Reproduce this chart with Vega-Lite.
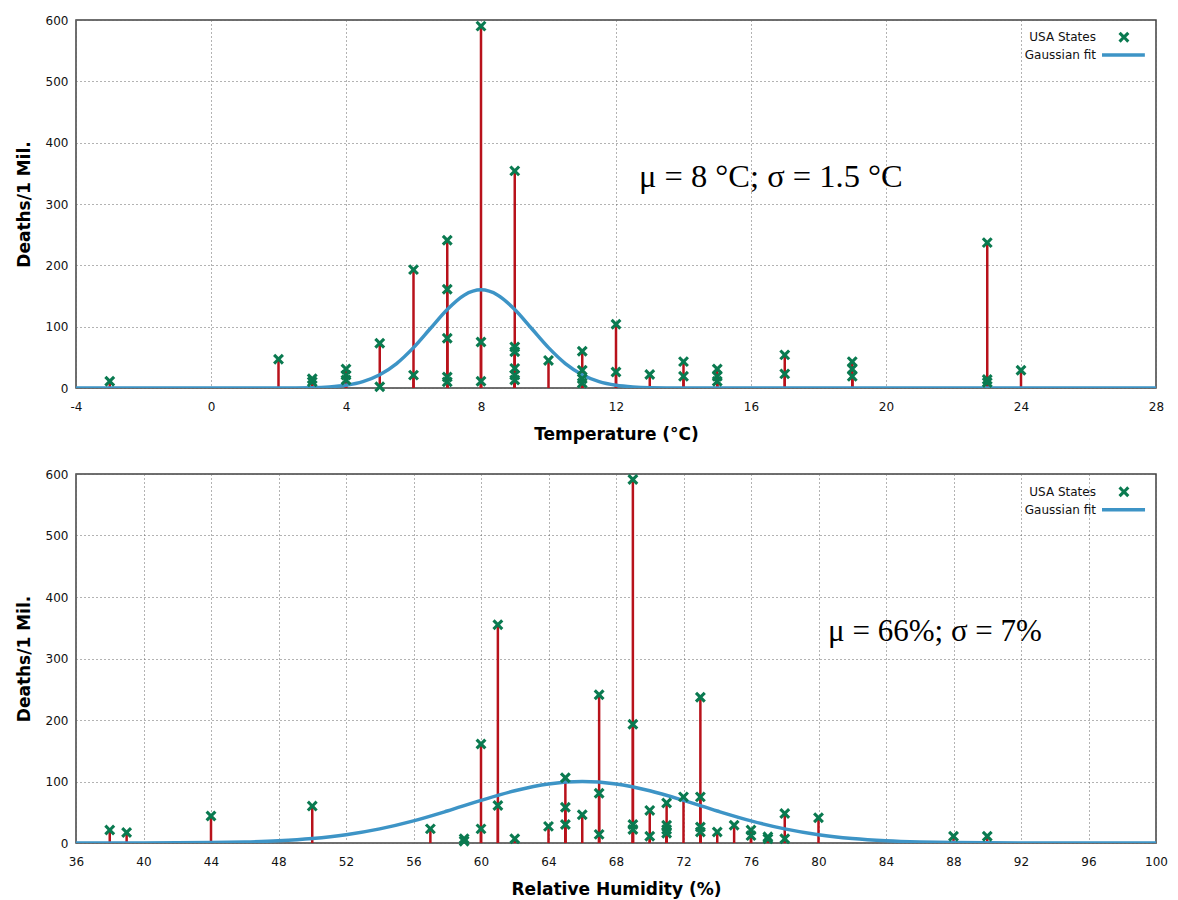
{
  "$schema": "https://vega.github.io/schema/vega-lite/v6.json",
  "background": "white",
  "padding": {"top": 13, "left": 14, "right": 10, "bottom": 5},
  "config": {
    "view": {"stroke": "#404040", "strokeWidth": 1.5},
    "concat": {"spacing": 24},
    "axis": {
      "labelFont": "DejaVu Sans",
      "labelFontSize": 12,
      "labelColor": "#111111",
      "titleFont": "DejaVu Sans",
      "titleFontSize": 17,
      "titleFontWeight": "bold",
      "titleColor": "#000000",
      "grid": true,
      "gridDash": [1, 3],
      "gridColor": "#666666",
      "gridWidth": 1,
      "ticks": false,
      "domain": false,
      "labelFlush": false,
      "labelExpr": "'' + datum.value"
    },
    "axisX": {"labelPadding": 13, "titlePadding": 14},
    "axisY": {"labelPadding": 8, "titlePadding": 12}
  },
  "datasets": {
    "temp": [
      {"temperature": -3, "deaths": 11},
      {"temperature": 2, "deaths": 47},
      {"temperature": 3, "deaths": 15},
      {"temperature": 3, "deaths": 10},
      {"temperature": 4, "deaths": 31},
      {"temperature": 4, "deaths": 21},
      {"temperature": 4, "deaths": 13},
      {"temperature": 5, "deaths": 73},
      {"temperature": 5, "deaths": 2},
      {"temperature": 6, "deaths": 193},
      {"temperature": 6, "deaths": 21},
      {"temperature": 7, "deaths": 241},
      {"temperature": 7, "deaths": 161},
      {"temperature": 7, "deaths": 81},
      {"temperature": 7, "deaths": 18},
      {"temperature": 7, "deaths": 10},
      {"temperature": 8, "deaths": 590},
      {"temperature": 8, "deaths": 75},
      {"temperature": 8, "deaths": 11},
      {"temperature": 9, "deaths": 354},
      {"temperature": 9, "deaths": 67},
      {"temperature": 9, "deaths": 59},
      {"temperature": 9, "deaths": 32},
      {"temperature": 9, "deaths": 21},
      {"temperature": 9, "deaths": 13},
      {"temperature": 10, "deaths": 45},
      {"temperature": 11, "deaths": 60},
      {"temperature": 11, "deaths": 29},
      {"temperature": 11, "deaths": 15},
      {"temperature": 11, "deaths": 8},
      {"temperature": 12, "deaths": 104},
      {"temperature": 12, "deaths": 26},
      {"temperature": 13, "deaths": 22},
      {"temperature": 14, "deaths": 43},
      {"temperature": 14, "deaths": 19},
      {"temperature": 15, "deaths": 31},
      {"temperature": 15, "deaths": 19},
      {"temperature": 15, "deaths": 11},
      {"temperature": 17, "deaths": 54},
      {"temperature": 17, "deaths": 23},
      {"temperature": 19, "deaths": 43},
      {"temperature": 19, "deaths": 31},
      {"temperature": 19, "deaths": 19},
      {"temperature": 23, "deaths": 237},
      {"temperature": 23, "deaths": 14},
      {"temperature": 23, "deaths": 9},
      {"temperature": 24, "deaths": 29}
    ],
    "tempFit": [
      {"temperature": -4, "deaths": 0},
      {"temperature": 0, "deaths": 0},
      {"temperature": 2, "deaths": 0.05},
      {"temperature": 3, "deaths": 0.6},
      {"temperature": 3.5, "deaths": 1.8},
      {"temperature": 4, "deaths": 4.6},
      {"temperature": 4.5, "deaths": 10.5},
      {"temperature": 5, "deaths": 21.7},
      {"temperature": 5.5, "deaths": 39.9},
      {"temperature": 6, "deaths": 65.8},
      {"temperature": 6.5, "deaths": 97.0},
      {"temperature": 7, "deaths": 128.1},
      {"temperature": 7.5, "deaths": 151.4},
      {"temperature": 8, "deaths": 160},
      {"temperature": 8.5, "deaths": 151.4},
      {"temperature": 9, "deaths": 128.1},
      {"temperature": 9.5, "deaths": 97.0},
      {"temperature": 10, "deaths": 65.8},
      {"temperature": 10.5, "deaths": 39.9},
      {"temperature": 11, "deaths": 21.7},
      {"temperature": 11.5, "deaths": 10.5},
      {"temperature": 12, "deaths": 4.6},
      {"temperature": 12.5, "deaths": 1.8},
      {"temperature": 13, "deaths": 0.6},
      {"temperature": 14, "deaths": 0.05},
      {"temperature": 16, "deaths": 0},
      {"temperature": 28, "deaths": 0}
    ],
    "hum": [
      {"humidity": 38, "deaths": 21},
      {"humidity": 39, "deaths": 17},
      {"humidity": 44, "deaths": 44},
      {"humidity": 50, "deaths": 60},
      {"humidity": 57, "deaths": 23},
      {"humidity": 59, "deaths": 7},
      {"humidity": 59, "deaths": 3},
      {"humidity": 60, "deaths": 161},
      {"humidity": 60, "deaths": 23},
      {"humidity": 61, "deaths": 355},
      {"humidity": 61, "deaths": 61},
      {"humidity": 62, "deaths": 7},
      {"humidity": 64, "deaths": 27},
      {"humidity": 65, "deaths": 106},
      {"humidity": 65, "deaths": 58},
      {"humidity": 65, "deaths": 30},
      {"humidity": 66, "deaths": 46},
      {"humidity": 67, "deaths": 241},
      {"humidity": 67, "deaths": 81},
      {"humidity": 67, "deaths": 14},
      {"humidity": 69, "deaths": 591},
      {"humidity": 69, "deaths": 193},
      {"humidity": 69, "deaths": 30},
      {"humidity": 69, "deaths": 22},
      {"humidity": 70, "deaths": 53},
      {"humidity": 70, "deaths": 11},
      {"humidity": 71, "deaths": 65},
      {"humidity": 71, "deaths": 29},
      {"humidity": 71, "deaths": 22},
      {"humidity": 71, "deaths": 16},
      {"humidity": 72, "deaths": 75},
      {"humidity": 73, "deaths": 237},
      {"humidity": 73, "deaths": 75},
      {"humidity": 73, "deaths": 26},
      {"humidity": 73, "deaths": 18},
      {"humidity": 74, "deaths": 18},
      {"humidity": 75, "deaths": 29},
      {"humidity": 76, "deaths": 21},
      {"humidity": 76, "deaths": 12},
      {"humidity": 77, "deaths": 10},
      {"humidity": 77, "deaths": 7},
      {"humidity": 78, "deaths": 48},
      {"humidity": 78, "deaths": 7},
      {"humidity": 80, "deaths": 41},
      {"humidity": 88, "deaths": 11},
      {"humidity": 90, "deaths": 11}
    ],
    "humFit": [
      {"humidity": 36, "deaths": 0},
      {"humidity": 40, "deaths": 0.1},
      {"humidity": 44, "deaths": 0.72},
      {"humidity": 46, "deaths": 1.69},
      {"humidity": 48, "deaths": 3.67},
      {"humidity": 50, "deaths": 7.34},
      {"humidity": 52, "deaths": 13.5},
      {"humidity": 54, "deaths": 23.0},
      {"humidity": 56, "deaths": 36.0},
      {"humidity": 58, "deaths": 52.0},
      {"humidity": 60, "deaths": 69.3},
      {"humidity": 62, "deaths": 84.9},
      {"humidity": 64, "deaths": 96.0},
      {"humidity": 66, "deaths": 100},
      {"humidity": 68, "deaths": 96.0},
      {"humidity": 70, "deaths": 84.9},
      {"humidity": 72, "deaths": 69.3},
      {"humidity": 74, "deaths": 52.0},
      {"humidity": 76, "deaths": 36.0},
      {"humidity": 78, "deaths": 23.0},
      {"humidity": 80, "deaths": 13.5},
      {"humidity": 82, "deaths": 7.34},
      {"humidity": 84, "deaths": 3.67},
      {"humidity": 86, "deaths": 1.69},
      {"humidity": 88, "deaths": 0.72},
      {"humidity": 90, "deaths": 0.28},
      {"humidity": 92, "deaths": 0.1},
      {"humidity": 96, "deaths": 0},
      {"humidity": 100, "deaths": 0}
    ],
    "one": [{}]
  },
  "vconcat": [
    {
      "width": 1080,
      "height": 368,
      "layer": [
        {
          "data": {"name": "temp"},
          "mark": {"type": "rule", "color": "#b8121b", "strokeWidth": 2.5},
          "encoding": {
            "x": {"field": "temperature", "type": "quantitative",
              "scale": {"domain": [-4, 28], "nice": false, "zero": false},
              "axis": {"title": "Temperature (°C)", "values": [-4, 0, 4, 8, 12, 16, 20, 24, 28]}},
            "y": {"field": "deaths", "type": "quantitative",
              "scale": {"domain": [0, 600], "nice": false},
              "axis": {"title": "Deaths/1 Mil.", "values": [0, 100, 200, 300, 400, 500, 600]}},
            "y2": {"datum": 0}
          }
        },
        {
          "data": {"name": "tempFit"},
          "mark": {"type": "line", "color": "#3d94c6", "strokeWidth": 3.5, "interpolate": "monotone", "clip": true},
          "encoding": {
            "x": {"field": "temperature", "type": "quantitative"},
            "y": {"field": "deaths", "type": "quantitative"}
          }
        },
        {
          "data": {"name": "temp"},
          "mark": {"type": "point", "filled": true, "opacity": 1, "size": 120, "color": "#0a7a50",
            "shape": "M-1,-0.6L-0.6,-1L0,-0.4L0.6,-1L1,-0.6L0.4,0L1,0.6L0.6,1L0,0.4L-0.6,1L-1,0.6L-0.4,0Z"},
          "encoding": {
            "x": {"field": "temperature", "type": "quantitative"},
            "y": {"field": "deaths", "type": "quantitative"}
          }
        },
        {
          "data": {"name": "one"},
          "mark": {"type": "text", "font": "Liberation Serif", "fontSize": 32.5, "align": "left", "baseline": "middle", "color": "#000000"},
          "encoding": {
            "x": {"datum": 12.68, "type": "quantitative"},
            "y": {"datum": 344, "type": "quantitative"},
            "text": {"value": "μ = 8 °C; σ = 1.5 °C"}
          }
        },
        {
          "data": {"name": "one"},
          "mark": {"type": "text", "font": "DejaVu Sans", "fontSize": 12, "align": "right", "baseline": "middle", "color": "#111111"},
          "encoding": {
            "x": {"datum": 26.22, "type": "quantitative"},
            "y": {"datum": 572, "type": "quantitative"},
            "text": {"value": "USA States"}
          }
        },
        {
          "data": {"name": "one"},
          "mark": {"type": "text", "font": "DejaVu Sans", "fontSize": 12, "align": "right", "baseline": "middle", "color": "#111111"},
          "encoding": {
            "x": {"datum": 26.22, "type": "quantitative"},
            "y": {"datum": 543, "type": "quantitative"},
            "text": {"value": "Gaussian fit"}
          }
        },
        {
          "data": {"name": "one"},
          "mark": {"type": "point", "filled": true, "opacity": 1, "size": 120, "color": "#0a7a50",
            "shape": "M-1,-0.6L-0.6,-1L0,-0.4L0.6,-1L1,-0.6L0.4,0L1,0.6L0.6,1L0,0.4L-0.6,1L-1,0.6L-0.4,0Z"},
          "encoding": {
            "x": {"datum": 27.05, "type": "quantitative"},
            "y": {"datum": 572, "type": "quantitative"}
          }
        },
        {
          "data": {"name": "one"},
          "mark": {"type": "rule", "color": "#3d94c6", "strokeWidth": 3.5},
          "encoding": {
            "x": {"datum": 26.4, "type": "quantitative"},
            "x2": {"datum": 27.67},
            "y": {"datum": 543, "type": "quantitative"}
          }
        }
      ]
    },
    {
      "width": 1080,
      "height": 369,
      "layer": [
        {
          "data": {"name": "hum"},
          "mark": {"type": "rule", "color": "#b8121b", "strokeWidth": 2.5},
          "encoding": {
            "x": {"field": "humidity", "type": "quantitative",
              "scale": {"domain": [36, 100], "nice": false, "zero": false},
              "axis": {"title": "Relative Humidity (%)", "values": [36, 40, 44, 48, 52, 56, 60, 64, 68, 72, 76, 80, 84, 88, 92, 96, 100]}},
            "y": {"field": "deaths", "type": "quantitative",
              "scale": {"domain": [0, 600], "nice": false},
              "axis": {"title": "Deaths/1 Mil.", "values": [0, 100, 200, 300, 400, 500, 600]}},
            "y2": {"datum": 0}
          }
        },
        {
          "data": {"name": "humFit"},
          "mark": {"type": "line", "color": "#3d94c6", "strokeWidth": 3.5, "interpolate": "monotone", "clip": true},
          "encoding": {
            "x": {"field": "humidity", "type": "quantitative"},
            "y": {"field": "deaths", "type": "quantitative"}
          }
        },
        {
          "data": {"name": "hum"},
          "mark": {"type": "point", "filled": true, "opacity": 1, "size": 120, "color": "#0a7a50",
            "shape": "M-1,-0.6L-0.6,-1L0,-0.4L0.6,-1L1,-0.6L0.4,0L1,0.6L0.6,1L0,0.4L-0.6,1L-1,0.6L-0.4,0Z"},
          "encoding": {
            "x": {"field": "humidity", "type": "quantitative"},
            "y": {"field": "deaths", "type": "quantitative"}
          }
        },
        {
          "data": {"name": "one"},
          "mark": {"type": "text", "font": "Liberation Serif", "fontSize": 31, "align": "left", "baseline": "middle", "color": "#000000"},
          "encoding": {
            "x": {"datum": 80.57, "type": "quantitative"},
            "y": {"datum": 343, "type": "quantitative"},
            "text": {"value": "μ = 66%; σ = 7%"}
          }
        },
        {
          "data": {"name": "one"},
          "mark": {"type": "text", "font": "DejaVu Sans", "fontSize": 12, "align": "right", "baseline": "middle", "color": "#111111"},
          "encoding": {
            "x": {"datum": 96.44, "type": "quantitative"},
            "y": {"datum": 571, "type": "quantitative"},
            "text": {"value": "USA States"}
          }
        },
        {
          "data": {"name": "one"},
          "mark": {"type": "text", "font": "DejaVu Sans", "fontSize": 12, "align": "right", "baseline": "middle", "color": "#111111"},
          "encoding": {
            "x": {"datum": 96.44, "type": "quantitative"},
            "y": {"datum": 542, "type": "quantitative"},
            "text": {"value": "Gaussian fit"}
          }
        },
        {
          "data": {"name": "one"},
          "mark": {"type": "point", "filled": true, "opacity": 1, "size": 120, "color": "#0a7a50",
            "shape": "M-1,-0.6L-0.6,-1L0,-0.4L0.6,-1L1,-0.6L0.4,0L1,0.6L0.6,1L0,0.4L-0.6,1L-1,0.6L-0.4,0Z"},
          "encoding": {
            "x": {"datum": 98.1, "type": "quantitative"},
            "y": {"datum": 571, "type": "quantitative"}
          }
        },
        {
          "data": {"name": "one"},
          "mark": {"type": "rule", "color": "#3d94c6", "strokeWidth": 3.5},
          "encoding": {
            "x": {"datum": 96.8, "type": "quantitative"},
            "x2": {"datum": 99.35},
            "y": {"datum": 542, "type": "quantitative"}
          }
        }
      ]
    }
  ]
}
